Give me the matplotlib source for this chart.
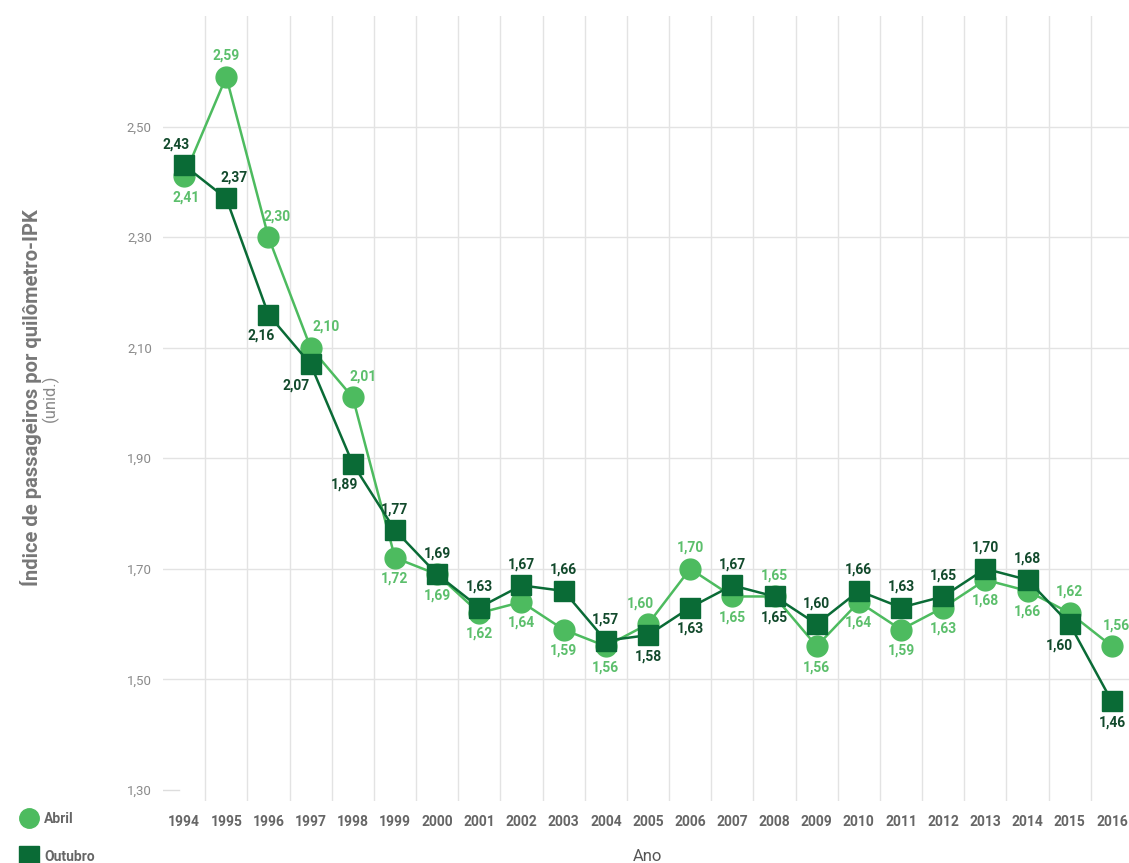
import matplotlib.pyplot as plt
from matplotlib.lines import Line2D

plt.rcParams['font.family'] = ['Roboto', 'DejaVu Sans']

anos = list(range(1994, 2017))
abril = [2.41, 2.59, 2.30, 2.10, 2.01, 1.72, 1.69, 1.62, 1.64, 1.59, 1.56, 1.60,
         1.70, 1.65, 1.65, 1.56, 1.64, 1.59, 1.63, 1.68, 1.66, 1.62, 1.56]
outubro = [2.43, 2.37, 2.16, 2.07, 1.89, 1.77, 1.69, 1.63, 1.67, 1.66, 1.57, 1.58,
           1.63, 1.67, 1.65, 1.60, 1.66, 1.63, 1.65, 1.70, 1.68, 1.60, 1.46]
yticks = [1.30, 1.50, 1.70, 1.90, 2.10, 2.30, 2.50]

# label offsets (pixels) for each point
abril_off = [(2, -21), (0, 21), (9, 21), (16, 21), (10, 21), (0, -21), (0, -21), (0, -21),
             (0, -21), (0, -21), (0, -21), (-8, 21), (0, 21), (0, -21), (0, 21), (0, -21),
             (0, -21), (0, -21), (0, -21), (0, -21), (0, -21), (0, 21), (4, 21)]
outubro_off = [(-8, 21), (8, 21), (-7, -21), (-14, -21), (-8, -21), (0, 21), (0, 21), (0, 21),
               (0, 21), (0, 21), (0, 21), (0, -21), (0, -21), (0, 21), (0, -21), (0, 21),
               (0, 21), (0, 21), (0, 21), (0, 21), (0, 21), (-10, -21), (0, -21)]

c_abril = '#4dbb5f'
c_abril_txt = '#5cbf6c'
c_out = '#0a6b36'
c_out_txt = '#124a2c'

fig = plt.figure(figsize=(11.29, 8.63), dpi=100)
ax = fig.add_axes([163 / 1129, 62 / 863, 970 / 1129, 785 / 863])

ax.plot(anos, abril, color=c_abril, lw=1.8, marker='o', markersize=15, zorder=3)
ax.plot(anos, outubro, color=c_out, lw=1.8, marker='s', markersize=14, zorder=4)

px = 72 / 100
for x, v, (dx, dy) in zip(anos, abril, abril_off):
    ax.annotate(f'{v:.2f}'.replace('.', ','), (x, v), xytext=(dx * px, dy * px),
                textcoords='offset points', ha='center', va='center',
                fontsize=10, fontweight='bold', color=c_abril_txt, zorder=5)
for x, v, (dx, dy) in zip(anos, outubro, outubro_off):
    ax.annotate(f'{v:.2f}'.replace('.', ','), (x, v), xytext=(dx * px, dy * px),
                textcoords='offset points', ha='center', va='center',
                fontsize=10, fontweight='bold', color=c_out_txt, zorder=5)

ax.set_xlim(1993.5, 2016.5)
ax.set_ylim(1.28, 2.70)

for s in ax.spines.values():
    s.set_visible(False)

# grid: vertical lines between years, horizontal lines at ticks
for x in anos[:-1]:
    ax.axvline(x + 0.5, color='#e3e3e3', lw=1, zorder=0)
for y in yticks[1:]:
    ax.axhline(y, color='#e3e3e3', lw=1, zorder=0)
ax.axhline(1.30, xmax=0.016, color='#dddddd', lw=1, zorder=0)

ax.set_yticks(yticks)
ax.set_yticklabels([f'{v:.2f}'.replace('.', ',') for v in yticks],
                   fontsize=9.5, color='#8a8a8a')
ax.set_xticks(anos)
ax.set_xticklabels([str(a) for a in anos], fontsize=10, fontweight='bold', color='#666666')
ax.tick_params(length=0)
ax.tick_params(axis='y', pad=8)
ax.tick_params(axis='x', pad=10)

fig.text(648 / 1129, 1 - 856 / 863, 'Ano', ha='center', va='center',
         fontsize=12, color='#555555')
fig.text(31 / 1129, 1 - 398 / 863, 'Índice de passageiros por quilômetro-IPK',
         rotation=90, ha='center', va='center', fontsize=14.5,
         fontweight='bold', color='#777777')
fig.text(50 / 1129, 1 - 398 / 863, '(unid.)', rotation=90, ha='center', va='center',
         fontsize=12, color='#888888')

handles = [
    Line2D([], [], marker='o', color=c_abril, lw=0, markersize=14, label='Abril'),
    Line2D([], [], marker='s', color=c_out, lw=0, markersize=14, label='Outubro'),
]
leg = fig.legend(handles=handles, loc='upper left', bbox_to_anchor=(8 / 1129, 1 - 799 / 863),
                 frameon=False, handletextpad=0.5, labelspacing=1.75, handlelength=1.2,
                 prop={'size': 10, 'weight': 'bold'})
for t in leg.get_texts():
    t.set_color('#666666')

fig.savefig('out.png', dpi=100)
